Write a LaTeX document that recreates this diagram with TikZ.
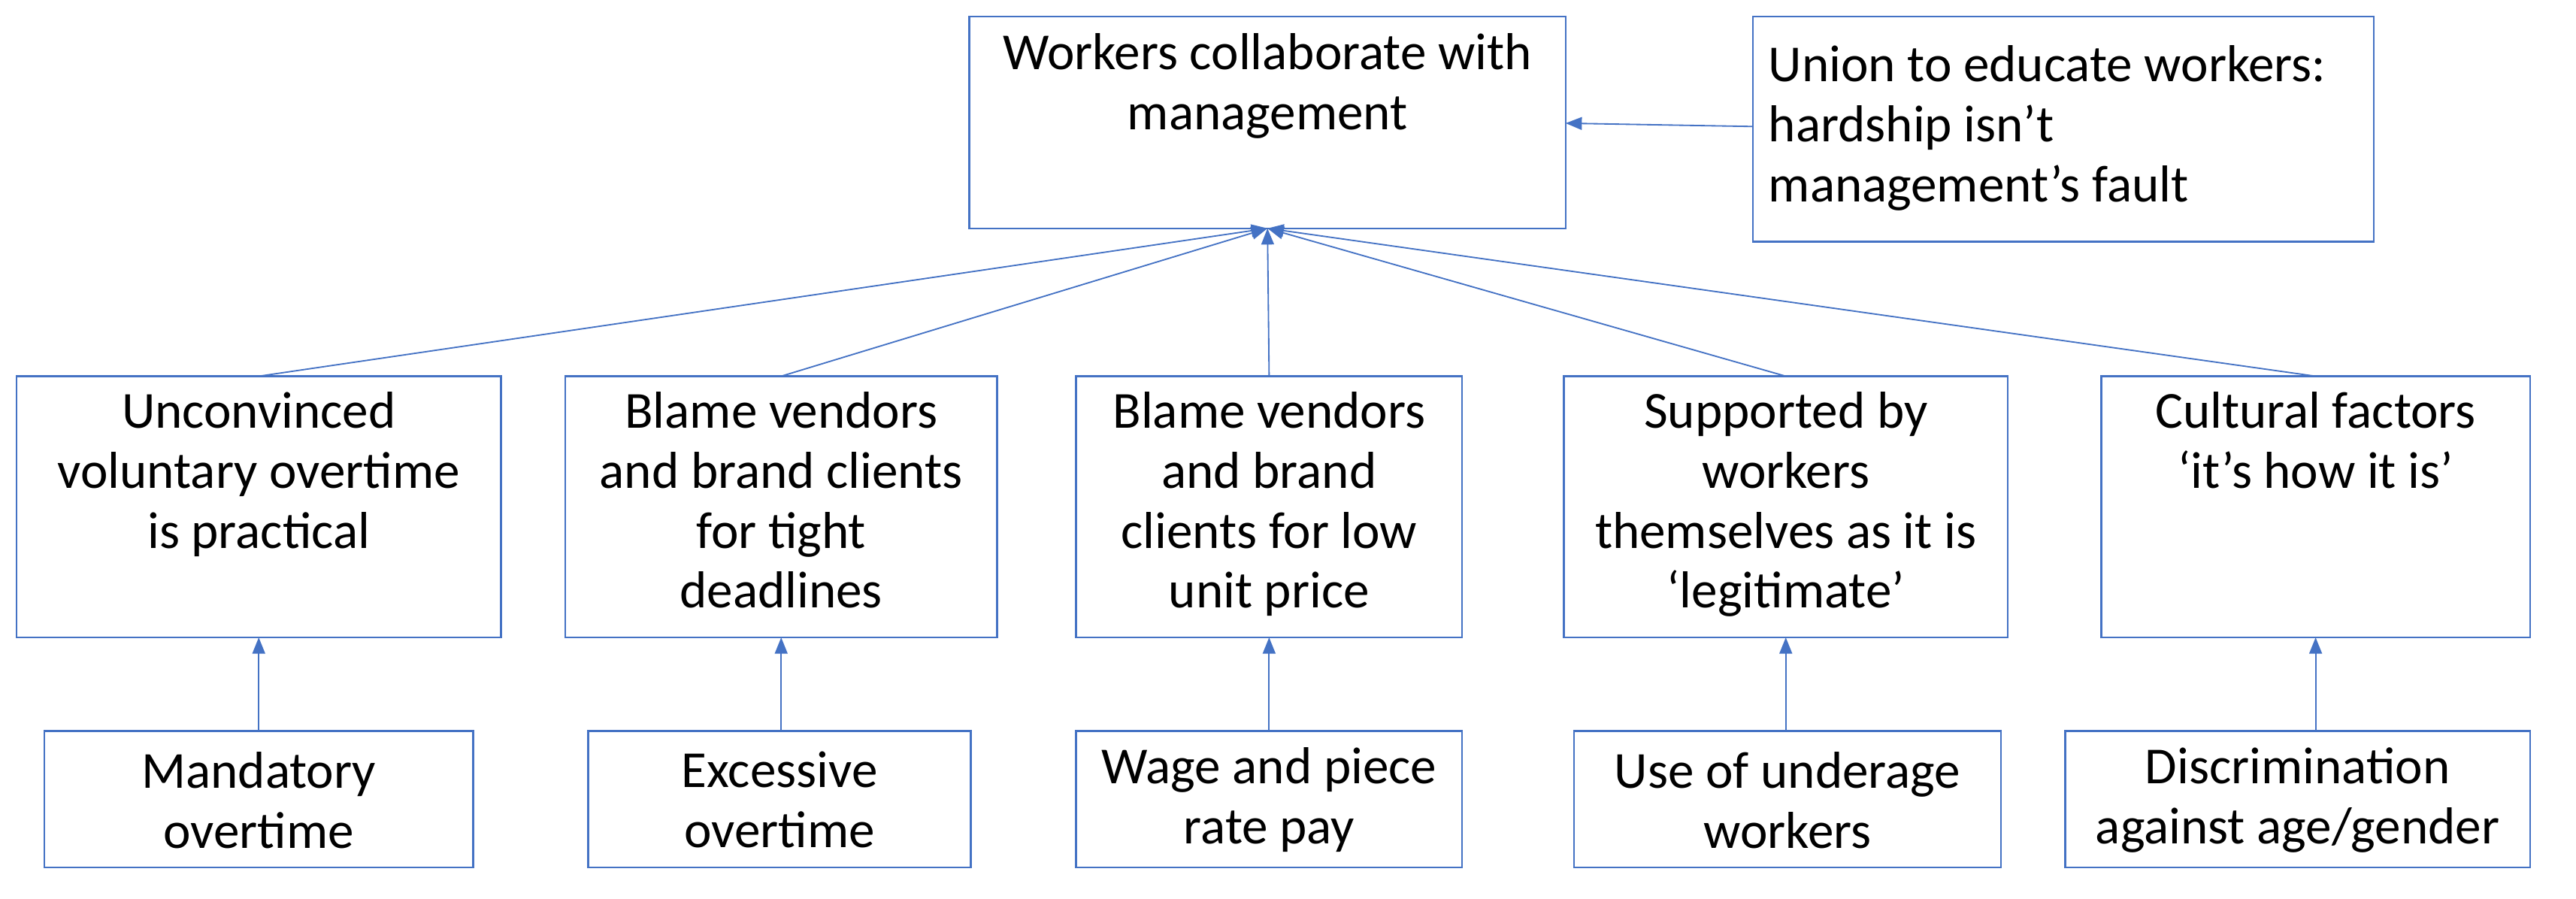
\documentclass[tikz,border=0pt]{standalone}
\usepackage{fontspec}
\setmainfont{Carlito}
\usetikzlibrary{arrows.meta}
\begin{document}
\begin{tikzpicture}[x=0.05cm,y=-0.05cm]
\definecolor{bc}{HTML}{4472C4}
\tikzset{
 bx/.style={draw=bc, line width=1.6pt},
 t/.style={align=center, font=\fontsize{45}{52}\selectfont, text=black},
 ar/.style={draw=bc, fill=bc, line width=1.2pt, -{Triangle[length=14pt,width=11pt]}}}
\useasboundingbox (0,0) rectangle (1568,547);
% top
\draw[bx] (590,10) rectangle (953,139); \node[t,anchor=north] (top) at (771.5,18) {Workers collaborate with\\management};
\coordinate (topb) at (771.5,139);
\coordinate (topr) at (953,75);
\draw[bx] (1067,10) rectangle (1445,147); \node[t,align=left,anchor=west] (un) at (1074,78) {Union to educate workers:\\hardship isn't\\management's fault};
\coordinate (unl) at (1067,77);
% middle
\foreach \n/\a/\b in {m1/10/305, m2/344/607, m3/655/890, m4/952/1222, m5/1279/1540}{
 \draw[bx] (\a,229) rectangle (\b,388);
 \coordinate (\n t) at ({(\a+\b)/2},229);
 \coordinate (\n b) at ({(\a+\b)/2},388);
}
\node[t,anchor=north] (m1) at (157.5,236) {Unconvinced\\voluntary overtime\\is practical};
\node[t,anchor=north] (m2) at (475.5,236) {Blame vendors\\and brand clients\\for tight\\deadlines};
\node[t,anchor=north] (m3) at (772.5,236) {Blame vendors\\and brand\\clients for low\\unit price};
\node[t,anchor=north] (m4) at (1087,236) {Supported by\\workers\\themselves as it is\\`legitimate'};
\node[t,anchor=north] (m5) at (1409.5,236) {Cultural factors\\`it's how it is'};
% bottom
\foreach \n/\a/\b in {b1/27/288, b2/358/591, b3/655/890, b4/958/1218, b5/1257/1540}{
 \draw[bx] (\a,445) rectangle (\b,528);
}
\coordinate (b1t) at (157.5,445); \coordinate (b2t) at (475.5,445);
\coordinate (b3t) at (772.5,445); \coordinate (b4t) at (1087,445);
\coordinate (b5t) at (1409.5,445);
\node[t] (b1) at (157.5,487) {Mandatory\\overtime};
\node[t] (b2) at (474.5,487) {Excessive\\overtime};
\node[t] (b3) at (772.5,487) {Wage and piece\\rate pay};
\node[t] (b4) at (1088,487) {Use of underage\\workers};
\node[t] (b5) at (1398.5,487) {Discrimination\\against age/gender};
% arrows
\draw[ar] (unl) -- (topr);
\foreach \n in {m1,m2,m3,m4,m5}{\draw[ar] (\n t) -- (topb);}
\foreach \n in {1,...,5}{\draw[ar] (b\n t) -- (m\n b);}
\end{tikzpicture}
\end{document}
